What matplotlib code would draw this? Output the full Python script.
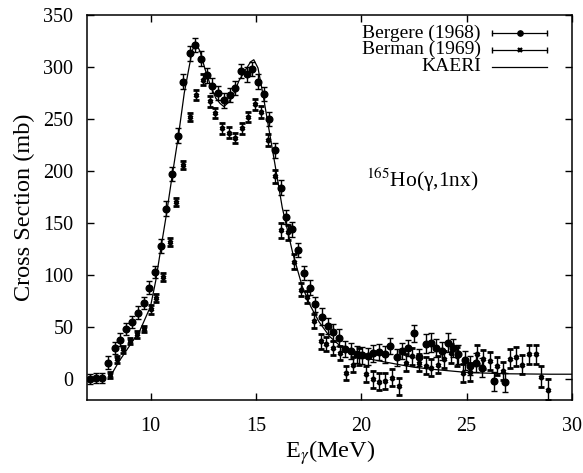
import numpy as np
import matplotlib
matplotlib.use("Agg")
import matplotlib.pyplot as plt

plt.rcParams['font.family'] = ['Liberation Serif', 'DejaVu Serif']
plt.rcParams['mathtext.fontset'] = 'stix'

# Bergere (1968) data: energy (MeV), cross section (mb), error (mb)
bergere_e = [7.15, 7.4, 7.7, 8.0, 8.29, 8.56, 8.83, 9.11, 9.4, 9.67, 9.95, 10.2,
             10.48, 10.75, 11.0, 11.3, 11.55, 11.85, 12.12, 12.4, 12.68, 12.92,
             13.2, 13.48, 13.76, 14.03, 14.3, 14.56, 14.82, 15.1, 15.38, 15.64,
             15.9, 16.17, 16.44, 16.73, 17.0, 17.29, 17.56, 17.82, 18.13, 18.4,
             18.67, 18.92, 19.24, 19.5, 19.78, 20.03, 20.3, 20.58, 20.86, 21.14,
             21.38, 21.68, 21.93, 22.2, 22.49, 22.73, 23.05, 23.3, 23.56, 23.84,
             24.11, 24.35, 24.59, 24.9, 25.18, 25.46, 25.74, 26.28, 26.82]
bergere_xs = [0, 1, 1, 16, 30, 38, 48, 55, 64, 73, 88, 103,
              128, 164, 197, 234, 286, 313, 321, 308, 292, 282,
              275, 268, 273, 280, 296, 293, 298, 286, 274, 250,
              220, 184, 156, 144, 124, 102, 88, 72, 60, 51,
              45, 40, 29, 27, 24, 23, 22, 25, 26, 24,
              32, 21, 27, 30, 44, 21, 34, 35, 30, 27,
              35, 30, 24, 18, 13, 16, 11, -2, -3]
bergere_err = [5, 5, 5, 6, 6, 6, 6, 6, 6, 6, 6, 6,
               7, 7, 7, 7, 7, 7, 7, 7, 7, 7,
               7, 7, 7, 7, 7, 7, 7, 7, 7, 7,
               7, 7, 7, 7, 7, 7, 7, 7, 8, 8,
               8, 8, 8, 8, 8, 8, 8, 8, 8, 8,
               8, 8, 8, 8, 8, 8, 9, 9, 9, 9,
               9, 9, 9, 9, 9, 9, 9, 9, 9]

# Berman (1969) data
berman_e = [8.08, 8.4, 8.71, 9.03, 9.35, 9.67, 10.0, 10.27, 10.6, 10.94, 11.2,
            11.55, 11.86, 12.16, 12.48, 12.8, 13.08, 13.4, 13.71, 14.0, 14.32,
            14.63, 14.95, 15.24, 15.59, 15.9, 16.17, 16.52, 16.8, 17.13, 17.44,
            17.76, 18.08, 18.35, 18.67, 18.98, 19.27, 19.6, 19.9, 20.22, 20.54,
            20.86, 21.14, 21.46, 21.78, 22.1, 22.4, 22.73, 23.05, 23.3, 23.63,
            23.95, 24.25, 24.55, 24.85, 25.17, 25.49, 25.8, 26.1, 26.42, 26.74,
            27.05, 27.36, 27.65, 27.97, 28.27, 28.55, 28.87]
berman_xs = [4, 19, 28.6, 36.5, 43, 48, 67, 78, 98, 132, 170,
             206, 252, 273, 288, 267, 256, 241, 237, 232, 241,
             252, 264, 257, 230, 195, 143, 141, 113, 86, 79,
             56, 36.5, 34, 30, 25, 6, 14, 22, 5, 0,
             -2.5, -1.6, 1.6, -7, 16, 22, 16, 13, 11, 14,
             19, 25, 22, 6, 7, 24, 19, 17.5, 12.7, 8,
             19.6, 21.6, 14, 24, 24, 2.5, -10]
berman_err = [3, 3, 3, 3, 3, 3, 4, 4, 4, 4, 4,
              4, 4, 5, 5, 5, 5, 5, 5, 5, 5,
              5, 5, 6, 6, 6, 7, 7, 7, 6, 6,
              7, 7, 7, 7, 7, 7, 7, 8, 8, 8,
              8, 8, 8, 8, 8, 8, 8, 8, 8, 8,
              8, 9, 9, 9, 9, 9, 9, 9, 9, 9,
              9, 9, 9, 9, 9, 10, 10]

# KAERI evaluation
kaeri_e = [8.0, 8.1, 8.5, 9.0, 9.5, 10.0, 10.25, 10.5, 10.75, 11.0, 11.33, 11.6,
           11.97, 12.13, 12.35, 12.6, 12.85, 13.1, 13.3, 13.48, 13.7, 13.9, 14.2,
           14.5, 14.75, 14.9, 15.1, 15.35, 15.62, 15.9, 16.25, 16.75, 17.2, 17.6,
           18.0, 18.5, 19.0, 19.5, 20.0, 20.5, 21.0, 21.8, 22.5, 23.4, 24.2, 25.0,
           26.0, 27.0, 28.0, 29.0, 30.0]
kaeri_xs = [0, 3, 17, 32, 47, 70, 95, 127, 158, 192, 235, 275,
            315, 324, 315, 297, 282, 270, 265, 262, 266, 272, 287,
            297, 305, 307, 299, 272, 240, 207, 165, 121, 89, 70,
            55, 41, 32, 26, 22, 19, 17, 14, 11.5, 9.5, 8, 6.5,
            5.8, 5.2, 5, 4.8, 4.8]

fig = plt.figure(figsize=(5.83, 4.73), dpi=100)
ax = fig.add_axes([0.1498, 0.1543, 0.8313, 0.8140])

ax.errorbar(bergere_e, bergere_xs, yerr=bergere_err, fmt='o', color='black',
            markersize=4.8, elinewidth=1.0, capsize=2.2, capthick=1.0)
ax.errorbar(berman_e, berman_xs, yerr=berman_err, fmt='x', color='black',
            markersize=3.5, markeredgewidth=2.0, elinewidth=1.0, capsize=2.2, capthick=1.0)
ax.plot(kaeri_e, kaeri_xs, color='black', linewidth=0.9)

ax.set_xlim(7, 30)
ax.set_ylim(-20, 350)
ax.set_xticks([10, 15, 20, 25, 30])
ax.set_yticks(np.arange(0, 351, 50))
ax.tick_params(direction='in', length=5, width=1, top=True, right=True, labelsize=14.5)
ax.tick_params(axis='x', pad=12)
ax.tick_params(axis='y', pad=10)
for s in ax.spines.values():
    s.set_linewidth(1.1)

ax.set_xlabel(r'E$_{\gamma}$(MeV)', fontsize=17.5, labelpad=2)
ax.set_ylabel('Cross Section (mb)', fontsize=17.5, labelpad=6)

ax.text(22.9, 192, r'$^{165}$Ho(γ,1nx)', fontsize=15.5, ha='center', va='center')

# gnuplot-like legend: right-aligned text, sample to the right
legend_rows = [('Bergere (1968)', 'o', 3.8, 1.0, True),
               ('Berman (1969)', 'x', 3.0, 1.6, True),
               ('KAERI', None, 0, 0, False)]
ys = [0.953, 0.910, 0.865]
x0, x1 = 0.836, 0.948
for (label, mk, ms, mew, caps), yy in zip(legend_rows, ys):
    ax.text(0.812, yy, label, transform=ax.transAxes, ha='right', va='center', fontsize=14)
    ax.plot([x0, x1], [yy, yy], transform=ax.transAxes, color='black', lw=0.9, clip_on=False)
    if caps:
        ax.plot([x0, x1], [yy, yy], transform=ax.transAxes, linestyle='none',
                marker='|', markersize=4, color='black', clip_on=False)
        ax.plot([(x0 + x1) / 2], [yy], transform=ax.transAxes, marker=mk,
                markersize=ms, markeredgewidth=mew, color='black', clip_on=False)

fig.savefig('out.png', dpi=100)
